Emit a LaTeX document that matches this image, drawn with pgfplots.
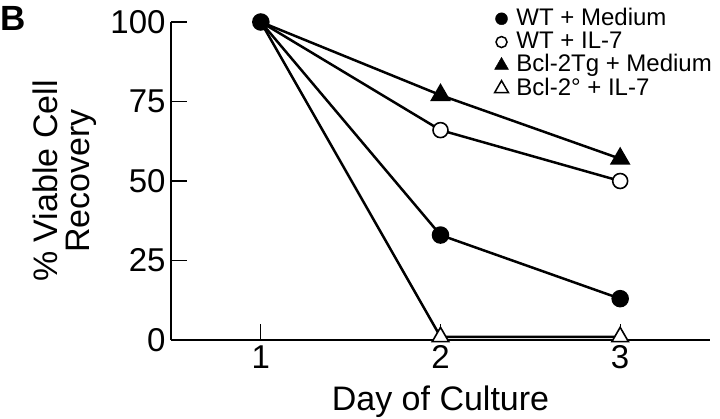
\documentclass[border=0pt]{standalone}
\usepackage{fontspec}
\setmainfont{Liberation Sans}
\usepackage{pgfplots}
\pgfplotsset{compat=1.18}

\begin{document}
\begin{tikzpicture}
% page frame, 1pt = 1px of the reference
\useasboundingbox (-171pt,-78pt) rectangle (549pt,340pt);
\begin{axis}[
    at={(0,0)}, anchor=south west,
    scale only axis, width=539pt, height=318pt,
    xmin=0.5, xmax=3.5, ymin=0, ymax=100,
    axis x line*=bottom, axis y line*=left,
    axis line style={line width=1.3pt},
    xtick={1,2,3}, ytick={0,25,50,75,100},
    tick align=inside, major tick length=16pt,
    tick style={line width=1.3pt, black},
    clip=false,
    ticklabel style={font=\fontsize{33}{33}\selectfont},
    /pgf/number format/assume math mode=true,
    yticklabel style={xshift=-2pt},
    xticklabel style={yshift=-2pt},
    xlabel={Day of Culture},
    ylabel={\% Viable Cell\\Recovery},
    xlabel style={font=\fontsize{34}{34}\selectfont, at={(axis description cs:0.5,0)}, anchor=north, yshift=-42pt},
    ylabel style={font=\fontsize{34}{32}\selectfont, align=center, at={(axis description cs:-0.197,0.5)}, anchor=center},
    legend style={at={(axis description cs:0.6,1.047)}, anchor=north west,
        draw=none, fill=none, inner sep=0pt, row sep=0.3pt,
        font=\fontsize{24}{24}\selectfont,
        nodes={inner sep=0pt, text height=18pt, text depth=5pt},
        /tikz/every odd column/.append style={column sep=8pt}},
    legend cell align=left,
    legend image code/.code={\draw[#1] plot coordinates {(0pt,0pt)};},
]

% drawn series (legend built separately below)
\addplot[black, line width=2.5pt, mark=*, mark size=7.5pt, forget plot] coordinates {
    (1, 100) (2, 33) (3, 13)
};
\addplot[black, line width=2.5pt, mark=*, mark size=7.5pt, mark indices={2,3},
    mark options={fill=white, line width=1.6pt}, forget plot] coordinates {
    (1, 100) (2, 66) (3, 50)
};
\addplot[black, line width=2.5pt, mark=triangle*, mark size=9.5pt, mark indices={2,3}, forget plot] coordinates {
    (1, 100) (2, 77) (3, 57)
};
\addplot[black, line width=2.5pt, mark=triangle*, mark size=9.5pt, mark indices={2,3},
    mark options={fill=white, line width=1.6pt}, forget plot] coordinates {
    (1, 100) (2, 1) (3, 1)
};

\addlegendimage{black, only marks, mark=*, mark size=6pt}
\addlegendentry{WT + Medium}
\addlegendimage{black, only marks, mark=*, mark size=5.5pt, mark options={fill=white, line width=1.5pt}}
\addlegendentry{WT + IL-7}
\addlegendimage{black, only marks, mark=triangle*, mark size=8pt}
\addlegendentry{Bcl-2Tg + Medium}
\addlegendimage{black, only marks, mark=triangle*, mark size=8pt, mark options={fill=white, line width=1.5pt}}
\addlegendentry{Bcl-2° + IL-7}

\node[anchor=north west, inner sep=0pt, font=\bfseries\fontsize{35}{35}\selectfont]
    at (axis description cs:-0.317,1.05) {B};
\end{axis}
\end{tikzpicture}
\end{document}
